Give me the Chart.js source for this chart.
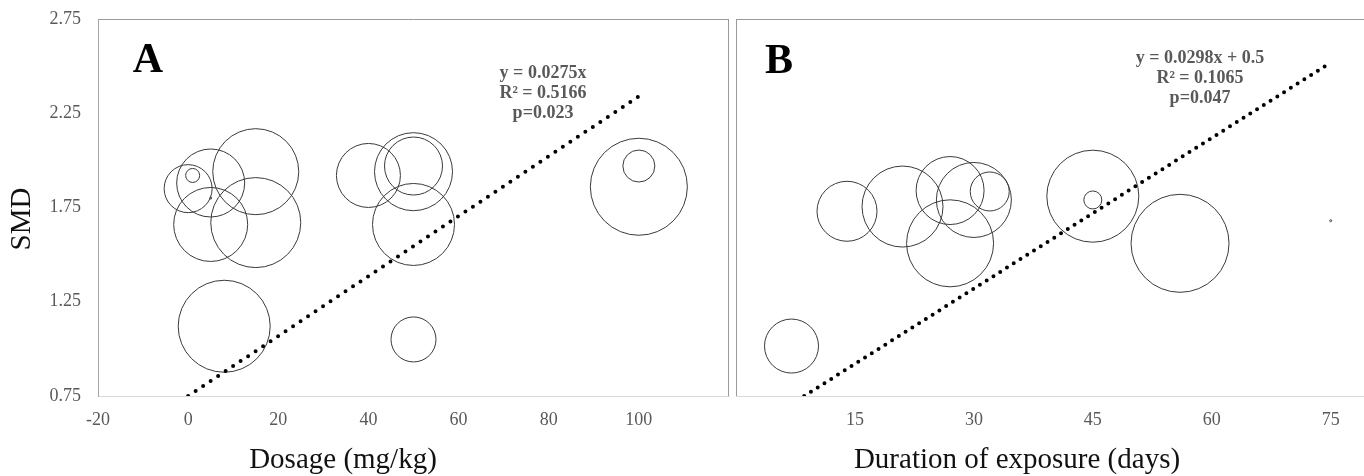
<!DOCTYPE html>
<html>
<head>
<meta charset="utf-8">
<script src="https://cdn.jsdelivr.net/npm/chart.js@4.4.0/dist/chart.umd.min.js"></script>
<style>
  html, body { margin: 0; padding: 0; background: #fff; }
  #wrap { position: relative; width: 1364px; height: 476px; }
  #chartA { position: absolute; left: 0; top: 0; }
  #chartB { position: absolute; left: 733px; top: 0; }
</style>
</head>
<body>
<div id="wrap">
  <canvas id="chartA" width="733" height="476"></canvas>
  <canvas id="chartB" width="631" height="476"></canvas>
</div>
<script>
// panel A - dosage (mg/kg) vs SMD, bubble size = study weight
var doseX = [0, 1, 5, 15, 5, 15, 5, 8, 40, 50, 50, 50, 50, 100, 100];
var doseY = [1.85, 1.92, 1.88, 1.94, 1.66, 1.67, 1.80, 1.12, 1.92, 1.94, 1.97, 1.66, 1.05, 1.86, 1.97];
var doseR = [24, 7, 34, 43, 37, 45, 1, 46, 32, 39, 29, 41, 22.5, 48.5, 16];
var doseFitX = [0, 100];
var doseFitY = [0.75, 2.34];
var doseTicks = [-20, 0, 20, 40, 60, 80, 100];

// panel B - duration of exposure (days) vs SMD
var daysX = [14, 21, 27, 30, 32, 27, 7, 45, 45, 56, 75];
var daysY = [1.73, 1.755, 1.84, 1.79, 1.835, 1.56, 1.015, 1.81, 1.79, 1.56, 1.68];
var daysR = [30, 40.5, 34, 37.5, 19.5, 43.5, 27, 46, 9, 49, 1];
var daysFitX = [8.6, 74.3];
var daysFitY = [0.75, 2.5];
var daysTicks = [15, 30, 45, 60, 75];

var smdTicks = [0.75, 1.25, 1.75, 2.25, 2.75];

var serif = '"Liberation Serif", "Times New Roman", serif';
Chart.defaults.font.family = serif;
Chart.defaults.color = '#595959';

function bubbles(xs, ys, rs) {
  return xs.map(function (x, i) { return { x: x, y: ys[i], r: rs[i] }; });
}
function points(xs, ys) {
  return xs.map(function (x, i) { return { x: x, y: ys[i] }; });
}
function fixTicks(list) {
  return function (axis) { axis.ticks = list.map(function (v) { return { value: v }; }); };
}

// top / right / left edges of the plot frame
var frame = {
  id: 'frame',
  beforeDatasetsDraw: function (chart, args, opts) {
    var a = chart.chartArea, c = chart.ctx;
    c.save();
    c.strokeStyle = opts.color;
    c.lineWidth = 1;
    c.beginPath();
    c.moveTo(a.left, a.top + 0.5);
    c.lineTo(a.right, a.top + 0.5);
    if (opts.right) { c.moveTo(a.right - 0.5, a.top); c.lineTo(a.right - 0.5, a.bottom); }
    if (opts.left) { c.moveTo(a.left + 0.5, a.top); c.lineTo(a.left + 0.5, a.bottom); }
    c.stroke();
    c.restore();
  }
};

// free text: panel letters, regression notes, axis titles
var notes = {
  id: 'notes',
  afterDraw: function (chart, args, opts) {
    var c = chart.ctx;
    opts.items.forEach(function (t) {
      c.save();
      c.font = t.font;
      c.fillStyle = t.color;
      c.textAlign = 'center';
      c.textBaseline = 'middle';
      c.translate(t.px, t.py);
      if (t.rotate) c.rotate(-Math.PI / 2);
      c.fillText(t.text, 0, 0);
      c.restore();
    });
  }
};

function makeOptions(xMin, xMax, xTicks, showY, frameOpts, items, padLeft, padRight) {
  return {
    responsive: false,
    animation: false,
    layout: { autoPadding: false, padding: { left: padLeft, right: padRight, top: 19, bottom: 0 } },
    plugins: {
      legend: { display: false },
      tooltip: { enabled: false },
      frame: frameOpts,
      notes: { items: items }
    },
    scales: {
      x: {
        type: 'linear',
        min: xMin,
        max: xMax,
        afterBuildTicks: fixTicks(xTicks),
        afterFit: function (axis) { axis.height = 80; axis.paddingLeft = 0; axis.paddingRight = 0; },
        grid: { display: false },
        border: { color: '#d9d9d9', width: 1 },
        ticks: { padding: 5, font: { size: 18 }, color: '#595959' }
      },
      y: {
        type: 'linear',
        display: showY,
        min: 0.75,
        max: 2.75,
        afterBuildTicks: fixTicks(smdTicks),
        afterFit: function (axis) {
          if (showY) axis.width = 98;
          axis.paddingTop = 0;
          axis.paddingBottom = 0;
        },
        grid: { display: false },
        border: { color: '#a6a6a6', width: 1 },
        ticks: {
          padding: 9,
          font: { size: 18 },
          color: '#595959',
          callback: function (v) { return v.toFixed(2); }
        }
      }
    }
  };
}

function datasets(bx, by, br, fx, fy, gap) {
  return [
    {
      type: 'line',
      data: points(fx, fy),
      borderColor: '#000',
      borderWidth: 4,
      borderDash: [0, gap],
      borderCapStyle: 'round',
      pointRadius: 0,
      fill: false,
      tension: 0
    },
    {
      type: 'bubble',
      data: bubbles(bx, by, br),
      backgroundColor: 'rgba(0,0,0,0)',
      borderColor: '#3a3a3a',
      borderWidth: 1,
      hoverRadius: 0
    }
  ];
}

var noteFont = 'bold 18px ' + serif;
var titleFont = '29px ' + serif;
var letterFont = 'bold 42px ' + serif;

new Chart(document.getElementById('chartA').getContext('2d'), {
  type: 'bubble',
  data: { datasets: datasets(doseX, doseY, doseR, doseFitX, doseFitY, 9) },
  options: makeOptions(-20, 120, doseTicks, true, { color: '#9a9a9a', right: true }, [
    { text: 'A', px: 148, py: 61, font: letterFont, color: '#000' },
    { text: 'y = 0.0275x', px: 543, py: 73, font: noteFont, color: '#595959' },
    { text: 'R² = 0.5166', px: 543, py: 93, font: noteFont, color: '#595959' },
    { text: 'p=0.023', px: 543, py: 113, font: noteFont, color: '#595959' },
    { text: 'SMD', px: 22, py: 219, font: titleFont, color: '#111', rotate: true },
    { text: 'Dosage (mg/kg)', px: 343, py: 460, font: titleFont, color: '#111' }
  ], 0, 4),
  plugins: [frame, notes]
});

new Chart(document.getElementById('chartB').getContext('2d'), {
  type: 'bubble',
  data: { datasets: datasets(daysX, daysY, daysR, daysFitX, daysFitY, 8) },
  options: makeOptions(0, 79.2, daysTicks, false, { color: '#9a9a9a', left: true }, [
    { text: 'B', px: 46, py: 62, font: letterFont, color: '#000' },
    { text: 'y = 0.0298x + 0.5', px: 467, py: 58, font: noteFont, color: '#595959' },
    { text: 'R² = 0.1065', px: 467, py: 78, font: noteFont, color: '#595959' },
    { text: 'p=0.047', px: 467, py: 98, font: noteFont, color: '#595959' },
    { text: 'Duration of exposure (days)', px: 284, py: 460, font: titleFont, color: '#111' }
  ], 3, 0),
  plugins: [frame, notes]
});
</script>
</body>
</html>
